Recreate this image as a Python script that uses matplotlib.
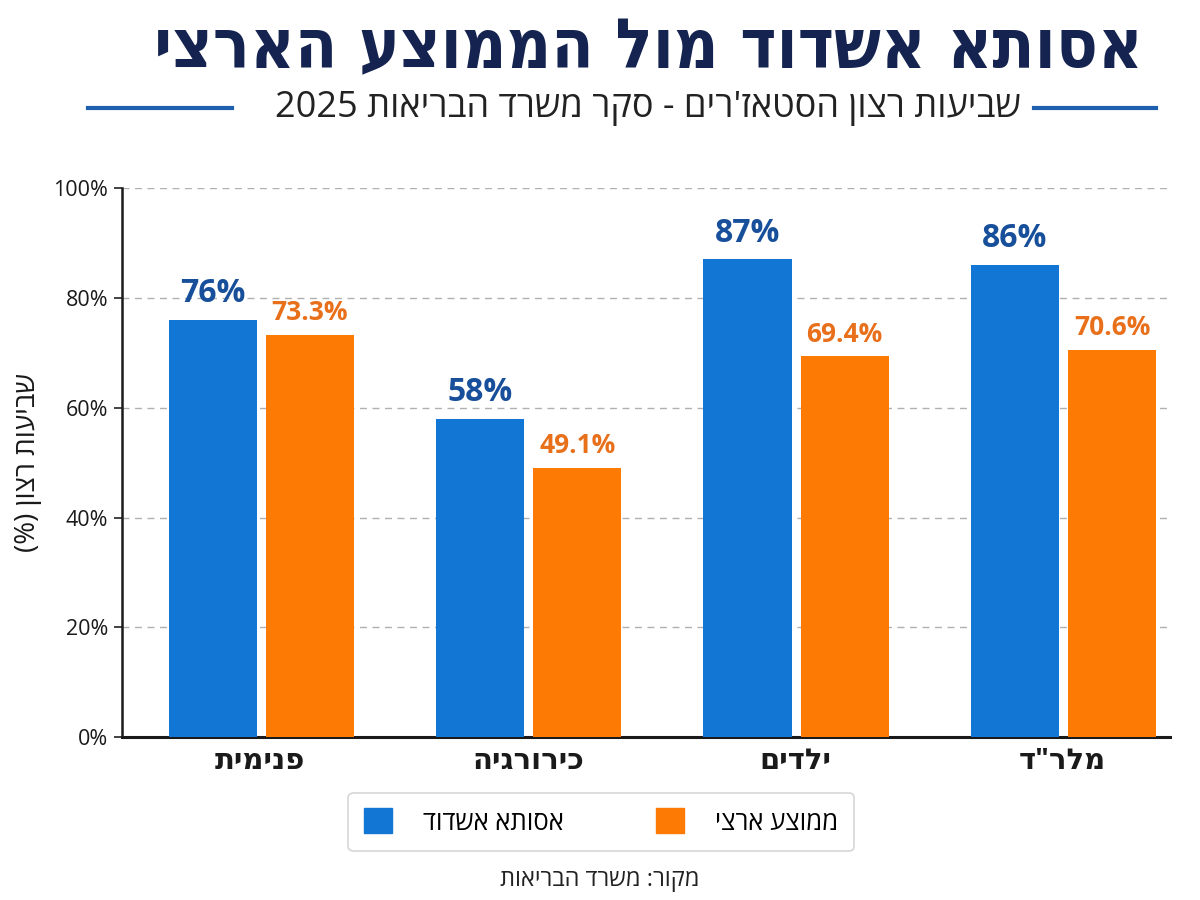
import re
import numpy as np
import matplotlib
matplotlib.use("Agg")
import matplotlib.pyplot as plt
from matplotlib.lines import Line2D

# ---------------- data ----------------
categories = ["פנימית", "כירורגיה", "ילדים", 'מלר"ד']
assuta_values = [76, 58, 87, 86]
national_values = [73.3, 49.1, 69.4, 70.6]
assuta_labels = ["76%", "58%", "87%", "86%"]
national_labels = ["73.3%", "49.1%", "69.4%", "70.6%"]
yticks = [0, 20, 40, 60, 80, 100]
ytick_labels = ["0%", "20%", "40%", "60%", "80%", "100%"]
series_names = ["אסותא אשדוד", "ממוצע ארצי"]
title = "אסותא אשדוד מול הממוצע הארצי"
subtitle = "שביעות רצון הסטאז'רים - סקר משרד הבריאות 2025"
ylabel = "שביעות רצון (%)"
source = "מקור: משרד הבריאות"

MIRROR = {"(": ")", ")": "(", "[": "]", "]": "["}


def visual(s):
    """Convert logical RTL text to visual order for LTR rendering."""
    tokens = re.findall(r"[0-9A-Za-z.]+|[^0-9A-Za-z.]+", s)
    out = []
    for t in reversed(tokens):
        if re.fullmatch(r"[0-9A-Za-z.]+", t):
            out.append(t)
        else:
            out.append("".join(MIRROR.get(c, c) for c in reversed(t)))
    return "".join(out)


BLUE = "#1176d4"
ORANGE = "#fd7a04"
BLUE_TXT = "#174f9b"
ORANGE_TXT = "#e8701b"
NAVY = "#14234f"
FAM = ["Open Sans", "DejaVu Sans"]

plt.rcParams["font.family"] = FAM

fig = plt.figure(figsize=(12, 9), dpi=100)
ax = fig.add_axes([0.1017, 0.181, 0.873, 0.610])

x = np.arange(len(categories))
w = 0.33
b1 = ax.bar(x - 0.178, assuta_values, width=w, color=BLUE, zorder=3)
b2 = ax.bar(x + 0.185, national_values, width=w, color=ORANGE, zorder=3)

for rect, lab in zip(b1, assuta_labels):
    ax.annotate(lab, (rect.get_x() + rect.get_width() / 2, rect.get_height()),
                xytext=(0, 7), textcoords="offset points", ha="center", va="bottom",
                fontsize=23, fontweight="bold", color=BLUE_TXT)
for rect, lab in zip(b2, national_labels):
    ax.annotate(lab, (rect.get_x() + rect.get_width() / 2, rect.get_height()),
                xytext=(0, 6), textcoords="offset points", ha="center", va="bottom",
                fontsize=19, fontweight="bold", color=ORANGE_TXT)

ax.set_ylim(0, 100)
ax.set_xlim(-0.517, 3.40)
ax.set_yticks(yticks)
ax.set_yticklabels(ytick_labels, fontsize=15.5, color="#1a1a1a")
ax.set_xticks(x)
ax.set_xticklabels([visual(c) for c in categories], fontsize=21,
                   fontweight="bold", color="#1a1a1a")
ax.tick_params(axis="x", length=0, pad=7)
ax.tick_params(axis="y", length=6, width=1.2, color="#222222", pad=4)

ax.yaxis.grid(True, linestyle=(0, (5, 4)), color="#b0b0b0", linewidth=1, zorder=0)
ax.set_axisbelow(True)
for sp in ["top", "right"]:
    ax.spines[sp].set_visible(False)
ax.spines["left"].set_linewidth(1.8)
ax.spines["left"].set_color("#1a1a1a")
ax.spines["bottom"].set_linewidth(2.2)
ax.spines["bottom"].set_color("#1a1a1a")

ax.set_ylabel(visual(ylabel), fontsize=20, color="#1a1a1a", labelpad=8)

# title & subtitle
fig.text(0.54, 0.946, visual(title), ha="center", va="center",
         fontsize=49.5, fontweight="bold", fontstretch="condensed", color=NAVY,
         family=["DejaVu Sans"])
fig.text(0.54, 0.880, visual(subtitle), ha="center", va="center",
         fontsize=26, color="#222222")
fig.add_artist(Line2D([0.073, 0.193], [0.880, 0.880], color="#1f5fb0", lw=3))
fig.add_artist(Line2D([0.862, 0.963], [0.880, 0.880], color="#1f5fb0", lw=3))

# legend
handles = [plt.Rectangle((0, 0), 1, 1, color=BLUE),
           plt.Rectangle((0, 0), 1, 1, color=ORANGE)]
leg = fig.legend(handles, [visual(n) for n in series_names], loc="center",
                 bbox_to_anchor=(0.501, 0.0867), ncol=2, fontsize=18.5,
                 frameon=True, fancybox=True, edgecolor="#cccccc",
                 handlelength=1.1, handleheight=1.1, columnspacing=3.6,
                 handletextpad=1.2, borderpad=0.6)
leg.get_frame().set_linewidth(1.2)

fig.text(0.5, 0.022, visual(source), ha="center", va="center",
         fontsize=17, color="#222222")

fig.savefig("out.png", dpi=100, facecolor="white")
